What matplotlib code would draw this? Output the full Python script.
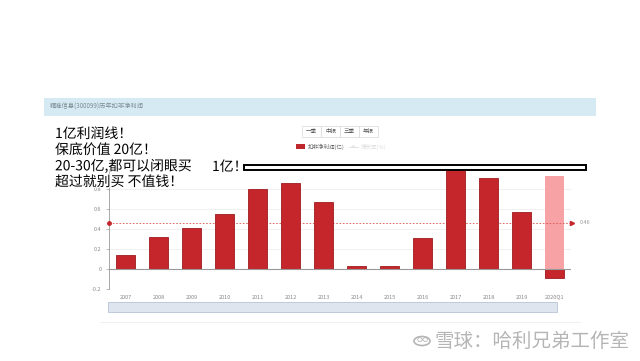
import matplotlib.pyplot as plt
import matplotlib.patheffects as pe
from matplotlib.patches import Rectangle, Circle

plt.rcParams['font.family'] = ['Noto Sans CJK SC', 'DejaVu Sans']

# data (扣非净利润, 亿元)
years = ['2007', '2008', '2009', '2010', '2011', '2012', '2013',
         '2014', '2015', '2016', '2017', '2018', '2019', '2020Q1']
profit = [0.136, 0.316, 0.406, 0.55, 0.80, 0.86, 0.67,
          0.026, 0.026, 0.306, 0.986, 0.91, 0.57, -0.09]
highlight_top = 0.93
avg_value = 0.46
y_ticks = [-0.2, 0, 0.2, 0.4, 0.6, 0.8]
y_tick_labels = ['-0.2', '0', '0.2', '0.4', '0.6', '0.8']
buttons = ['一季', '中报', '三季', '年报']
notes = ['1亿利润线！', '保底价值 20亿！', '20-30亿,都可以闭眼买', '超过就别买 不值钱！']

W, H = 640, 361
fig = plt.figure(figsize=(W / 100, H / 100), dpi=100)


def fx(px):
    return px / W


def fy(py):
    return 1 - py / H


# header band
fig.patches.append(Rectangle((fx(44), fy(116)), fx(552), 18 / H, transform=fig.transFigure,
                             facecolor='#d6eaf4', edgecolor='none'))
fig.text(fx(50), fy(107), '精准信息(300099)历年扣非净利润', fontsize=4.5, color='#7a8a90', va='center')

# buttons
bx = 302
for b in buttons:
    fig.patches.append(Rectangle((fx(bx), fy(137)), fx(19), 11 / H, transform=fig.transFigure,
                                 facecolor='white', edgecolor='#d8d8d8', lw=0.5))
    fig.text(fx(bx + 9.5), fy(131.5), b, fontsize=4, color='#555555', ha='center', va='center')
    bx += 19

# legend
fig.patches.append(Rectangle((fx(296), fy(149)), fx(9), 5 / H, transform=fig.transFigure,
                             facecolor='#c0272d', edgecolor='none'))
fig.text(fx(308), fy(146.5), '扣非净利润(亿)', fontsize=4, color='#666666', va='center')
fig.lines.append(plt.Line2D([fx(349), fx(358)], [fy(146.5), fy(146.5)], transform=fig.transFigure,
                            color='#dddddd', lw=0.6))
fig.patches.append(Circle((fx(353.5), fy(146.5)), 1.5 / W, transform=fig.transFigure,
                          facecolor='white', edgecolor='#dddddd', lw=0.5))
fig.text(fx(361), fy(146.5), '增长率(%)', fontsize=4, color='#dddddd', va='center')

# main axes
ax = fig.add_axes([fx(109), fy(289), fx(571 - 109), 120 / H])
x = list(range(len(years)))
ax.bar(x[-1], highlight_top - profit[-1], bottom=profit[-1], width=0.6,
       color='#f7a3a6', edgecolor='none', zorder=1)
ax.bar(x, profit, width=0.6, color='#c4262c', edgecolor='#9e1b1f', lw=0.6, zorder=3)
ax.axhline(avg_value, color='#d9534f', ls=(0, (2, 2)), lw=0.6, zorder=2)
ax.axhline(0, color='#999999', lw=0.8, zorder=4)
ax.plot([-0.5], [avg_value], 'o', color='#c4262c', ms=2.5, clip_on=False, zorder=5)
ax.plot([13.52], [avg_value], '>', color='#c4262c', ms=3, clip_on=False, zorder=5)
ax.text(13.75, avg_value, '0.46', fontsize=4, color='#999999', va='center')

ax.set_xlim(-0.5, 13.5)
ax.set_ylim(-0.2, 1.0)
ax.set_yticks(y_ticks)
ax.set_yticklabels(y_tick_labels)
ax.set_xticks(x)
ax.set_xticklabels(years)
ax.tick_params(labelsize=4, colors='#888888', length=2, width=0.4)
ax.tick_params(axis='x', length=0, pad=4)
ax.grid(axis='y', color='#eeeeee', lw=0.6)
ax.set_axisbelow(True)
for s in ['top', 'right', 'bottom']:
    ax.spines[s].set_visible(False)
ax.spines['left'].set_color('#999999')
ax.spines['left'].set_linewidth(0.6)

# slider under the chart
fig.patches.append(Rectangle((fx(108), fy(312)), fx(449), 10 / H, transform=fig.transFigure,
                             facecolor='#dfe5ee', edgecolor='#b8c4d4', lw=0.6))
fig.lines.append(plt.Line2D([fx(100), fx(580)], [fy(322), fy(322)], transform=fig.transFigure,
                            color='#eeeeee', lw=0.6))

# annotation text
halo = [pe.withStroke(linewidth=1.5, foreground='white')]
for i, t in enumerate(notes):
    fig.text(fx(55), fy(134 + i * 16), t, fontsize=10, color='black', va='center',
             path_effects=halo, zorder=10)
fig.text(fx(212), fy(167), '1亿！', fontsize=10, color='black', va='center', path_effects=halo)
fig.patches.append(Rectangle((fx(244), fy(170)), fx(342), 5 / H, transform=fig.transFigure,
                             facecolor='white', edgecolor='black', lw=1.4, zorder=10))

# watermark
fig.patches.append(Circle((fx(422), fy(341)), 8 / W, transform=fig.transFigure,
                          facecolor='none', edgecolor='#b5b5b5', lw=1.2))
fig.text(fx(422), fy(341), '∞', fontsize=8, color='#b5b5b5', ha='center', va='center')
fig.text(fx(434), fy(341), '雪球：哈利兄弟工作室', fontsize=14, color='#b5b5b5', va='center')

fig.savefig('out.png', dpi=100)
